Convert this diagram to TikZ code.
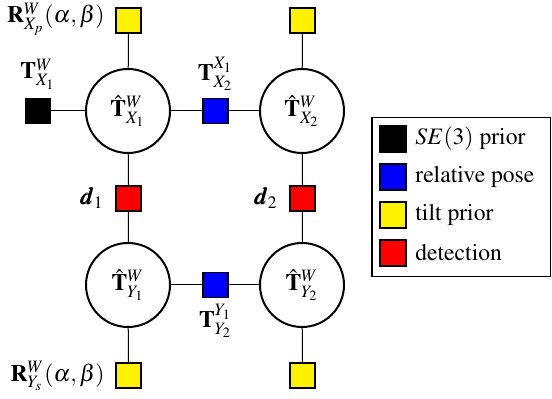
\documentclass[tikz,border=0pt]{standalone}
\usepackage[T1]{fontenc}
\usepackage{amsmath}
\usepackage{mathptmx}
\usepackage{bm}
\begin{document}
\begin{tikzpicture}[x=0.5pt,y=-0.5pt,
  var/.style={circle,draw,line width=1pt,minimum size=42pt,inner sep=0pt,fill=white},
  fac/.style={rectangle,draw,line width=0.8pt,minimum size=12.5pt,inner sep=0pt},
  edge/.style={line width=0.5pt},
  lbl/.style={inner sep=0pt},
  every node/.append style={font=\fontsize{11.8}{14}\selectfont}]
\useasboundingbox (0,0) rectangle (552,399);
% variable nodes
\node[var] (x1) at (128,111) {$\hat{\mathbf{T}}^{W}_{X_1}$};
\node[var] (x2) at (302,111) {$\hat{\mathbf{T}}^{W}_{X_2}$};
\node[var] (y1) at (128,285) {$\hat{\mathbf{T}}^{W}_{Y_1}$};
\node[var] (y2) at (302,285) {$\hat{\mathbf{T}}^{W}_{Y_2}$};
% factors
\node[fac,fill=yellow] (px1) at (128.5,20.5) {};
\node[fac,fill=yellow] (px2) at (302.5,20.5) {};
\node[fac,fill=black] (sx1) at (38,111) {};
\node[fac,fill=blue] (rx) at (215.5,111) {};
\node[fac,fill=red] (d1) at (128.5,198.5) {};
\node[fac,fill=red] (d2) at (302.5,198.5) {};
\node[fac,fill=blue] (ry) at (215.5,285) {};
\node[fac,fill=yellow] (py1) at (128.5,375.5) {};
\node[fac,fill=yellow] (py2) at (302.5,375.5) {};
% edges
\draw[edge] (px1) -- (x1);
\draw[edge] (px2) -- (x2);
\draw[edge] (sx1) -- (x1);
\draw[edge] (x1) -- (rx);
\draw[edge] (rx) -- (x2);
\draw[edge] (x1) -- (d1);
\draw[edge] (d1) -- (y1);
\draw[edge] (x2) -- (d2);
\draw[edge] (d2) -- (y2);
\draw[edge] (y1) -- (ry);
\draw[edge] (ry) -- (y2);
\draw[edge] (y1) -- (py1);
\draw[edge] (y2) -- (py2);
% labels
\node[lbl,anchor=east] (lpx) at (105,19) {$\mathbf{R}^{W}_{X_p}(\alpha,\beta)$};
\node[lbl] (lsx) at (38,74) {$\mathbf{T}^{W}_{X_1}$};
\node[lbl] (lrx) at (215.5,74) {$\mathbf{T}^{X_1}_{X_2}$};
\node[lbl,anchor=east] (ld1) at (104,198) {$\bm{d}_1$};
\node[lbl,anchor=east] (ld2) at (278,198) {$\bm{d}_2$};
\node[lbl] (lry) at (215.5,321) {$\mathbf{T}^{Y_1}_{Y_2}$};
\node[lbl,anchor=east] (lpy) at (105,376) {$\mathbf{R}^{W}_{Y_s}(\alpha,\beta)$};
% legend
\draw[line width=0.8pt] (372,117.5) rectangle (550.5,276.5);
\node[fac,fill=black,minimum size=13pt] (k1) at (393,139) {};
\node[fac,fill=blue,minimum size=13pt] (k2) at (393,177) {};
\node[fac,fill=yellow,minimum size=13pt] (k3) at (393,215) {};
\node[fac,fill=red,minimum size=13pt] (k4) at (393,253) {};
\node[lbl,anchor=west] (t1) at (415,139) {$SE(3)$ prior};
\node[lbl,anchor=west] (t2) at (415,177) {relative pose};
\node[lbl,anchor=west] (t3) at (415,215) {tilt prior};
\node[lbl,anchor=west] (t4) at (415,253) {detection};
\end{tikzpicture}
\end{document}
